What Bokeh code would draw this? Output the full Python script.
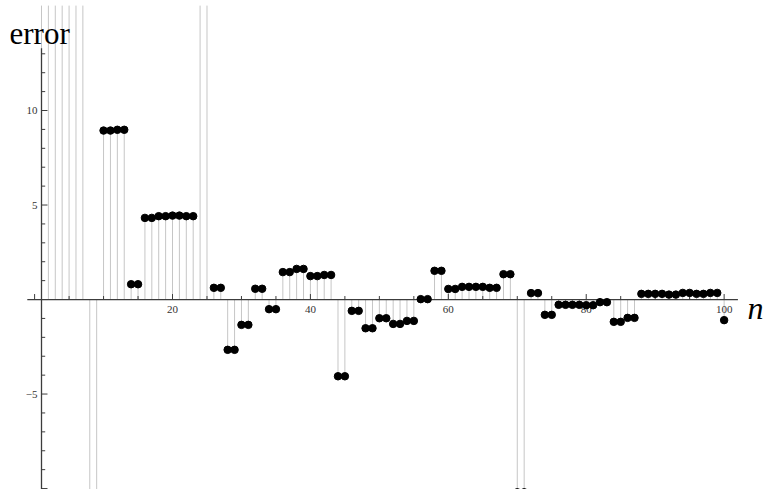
import numpy as np
from bokeh.plotting import figure
from bokeh.models import ColumnDataSource, Range1d
from bokeh.core.properties import value
from bokeh.embed import file_html
from bokeh.resources import INLINE

# ---- data -------------------------------------------------------------
n = list(range(1, 101))
error = [
    60.0, 48.0, 40.0, 33.0, 27.0, 22.0, 18.0,   # 1-7 (beyond the top)
    -16.0, -14.0,                               # 8-9 (beyond the bottom)
    8.94, 8.94, 8.98, 8.98,                     # 10-13
    0.81, 0.81,                                 # 14-15
    4.32, 4.32, 4.41, 4.41, 4.44, 4.44, 4.41, 4.41,  # 16-23
    19.0, 17.0,                                 # 24-25 (beyond the top)
    0.62, 0.62, -2.66, -2.66, -1.34, -1.34,     # 26-31
    0.57, 0.57, -0.51, -0.51, 1.45, 1.45,       # 32-37
    1.62, 1.62, 1.24, 1.24, 1.30, 1.30,         # 38-43
    -4.06, -4.06, -0.60, -0.60, -1.52, -1.52,   # 44-49
    -0.99, -0.99, -1.29, -1.29, -1.13, -1.13,   # 50-55
    0.02, 0.02, 1.52, 1.52, 0.56, 0.56,         # 56-61
    0.67, 0.67, 0.67, 0.67, 0.62, 0.62,         # 62-67
    1.34, 1.34, -10.2, -10.2, 0.34, 0.34,       # 68-73
    -0.81, -0.81, -0.28, -0.28, -0.28, -0.28,   # 74-79
    -0.30, -0.30, -0.14, -0.14, -1.18, -1.18,   # 80-85
    -0.97, -0.97, 0.30, 0.30, 0.30, 0.30,       # 86-91
    0.26, 0.26, 0.35, 0.35, 0.30, 0.30,         # 92-97
    0.35, 0.35, -1.09,                          # 98-100
]

x_major = [20, 40, 60, 80, 100]
x_minor = [t for t in range(0, 101, 5) if t % 20 != 0]
y_labeled = [-5, 5, 10]
y_ticks = list(range(-10, 14))

# ---- frame / ranges ---------------------------------------------------
W, H = 767, 489
X_START, X_END = -4.946, 106.29
Y_START, Y_END = -10.05, 15.82
PLOT_TOP = 15.55          # filling stops at the plot range edge
X_AXIS = (-1.06, 102.0)   # extent of the horizontal axis line
Y_AXIS = (-10.4, 13.3)    # extent of the vertical axis line
ORIGIN_X = 1

PX_X = W / (X_END - X_START)
PX_Y = H / (Y_END - Y_START)

def px_x(px):
    return X_START + px / PX_X

def px_y(px):
    return Y_END - px / PX_Y

p = figure(width=W, height=H,
           x_range=Range1d(X_START, X_END), y_range=Range1d(Y_START, Y_END),
           output_backend="svg", toolbar_location=None,
           x_axis_type=None, y_axis_type=None,
           min_border=0, min_border_left=0, min_border_right=0,
           min_border_top=0, min_border_bottom=0)
p.outline_line_color = None
p.background_fill_color = "white"
p.border_fill_color = "white"

AXIS_COLOR = "#3c3c3c"
TEXT_COLOR = "#333333"
SERIF = value("Liberation Serif")

# stems from the axis to each value, cut at the plot range
err = np.array(error, dtype=float)
stem_top = np.clip(err, Y_START - 1, PLOT_TOP)
stems = ColumnDataSource(dict(x=n, y0=[0] * len(n), y1=stem_top))
p.segment(x0="x", y0="y0", x1="x", y1="y1", source=stems,
          line_color="#c6c6c6", line_width=1)

# axes lines
p.segment(x0=[X_AXIS[0]], y0=[0], x1=[X_AXIS[1]], y1=[0],
          line_color=AXIS_COLOR, line_width=1.3)
p.segment(x0=[ORIGIN_X], y0=[Y_AXIS[0]], x1=[ORIGIN_X], y1=[Y_AXIS[1]],
          line_color=AXIS_COLOR, line_width=1.3)

# x ticks (pointing up)
xt = x_major + x_minor
xl = [5.5 / PX_Y] * len(x_major) + [3.5 / PX_Y] * len(x_minor)
xt = [0] + xt
xl = [5.5 / PX_Y] + xl
p.segment(x0=xt, y0=[0] * len(xt), x1=xt, y1=xl,
          line_color=AXIS_COLOR, line_width=1)
p.text(x=x_major, y=[px_y(305.5)] * len(x_major),
       text=[str(t) for t in x_major],
       text_font=SERIF, text_font_size="11px", text_color=TEXT_COLOR,
       text_align="center", text_baseline="top")

# y ticks (pointing right)
yl = [(6 if t % 5 == 0 else 3.7) / PX_X for t in y_ticks]
p.segment(x0=[ORIGIN_X] * len(y_ticks), y0=y_ticks,
          x1=[ORIGIN_X + d for d in yl], y1=y_ticks,
          line_color=AXIS_COLOR, line_width=1)
p.text(x=[px_x(37)] * len(y_labeled), y=y_labeled,
       text=[str(t).replace("-", "\u2212") for t in y_labeled],
       text_font=SERIF, text_font_size="11px", text_color=TEXT_COLOR,
       text_align="right", text_baseline="middle")

# data points
p.scatter(x=n, y=error, size=7.5, color="black", line_color="black")

# axis labels
p.text(x=[px_x(9)], y=[px_y(33)], text=["error"],
       text_font=SERIF, text_font_size="31px", text_color="black",
       text_align="left", text_baseline="alphabetic")
p.text(x=[px_x(747)], y=[px_y(307)], text=["n"],
       text_font=SERIF, text_font_size="32px", text_font_style="italic",
       text_color="black", text_align="left", text_baseline="alphabetic")

open("out.html", "w").write(file_html(p, INLINE))
